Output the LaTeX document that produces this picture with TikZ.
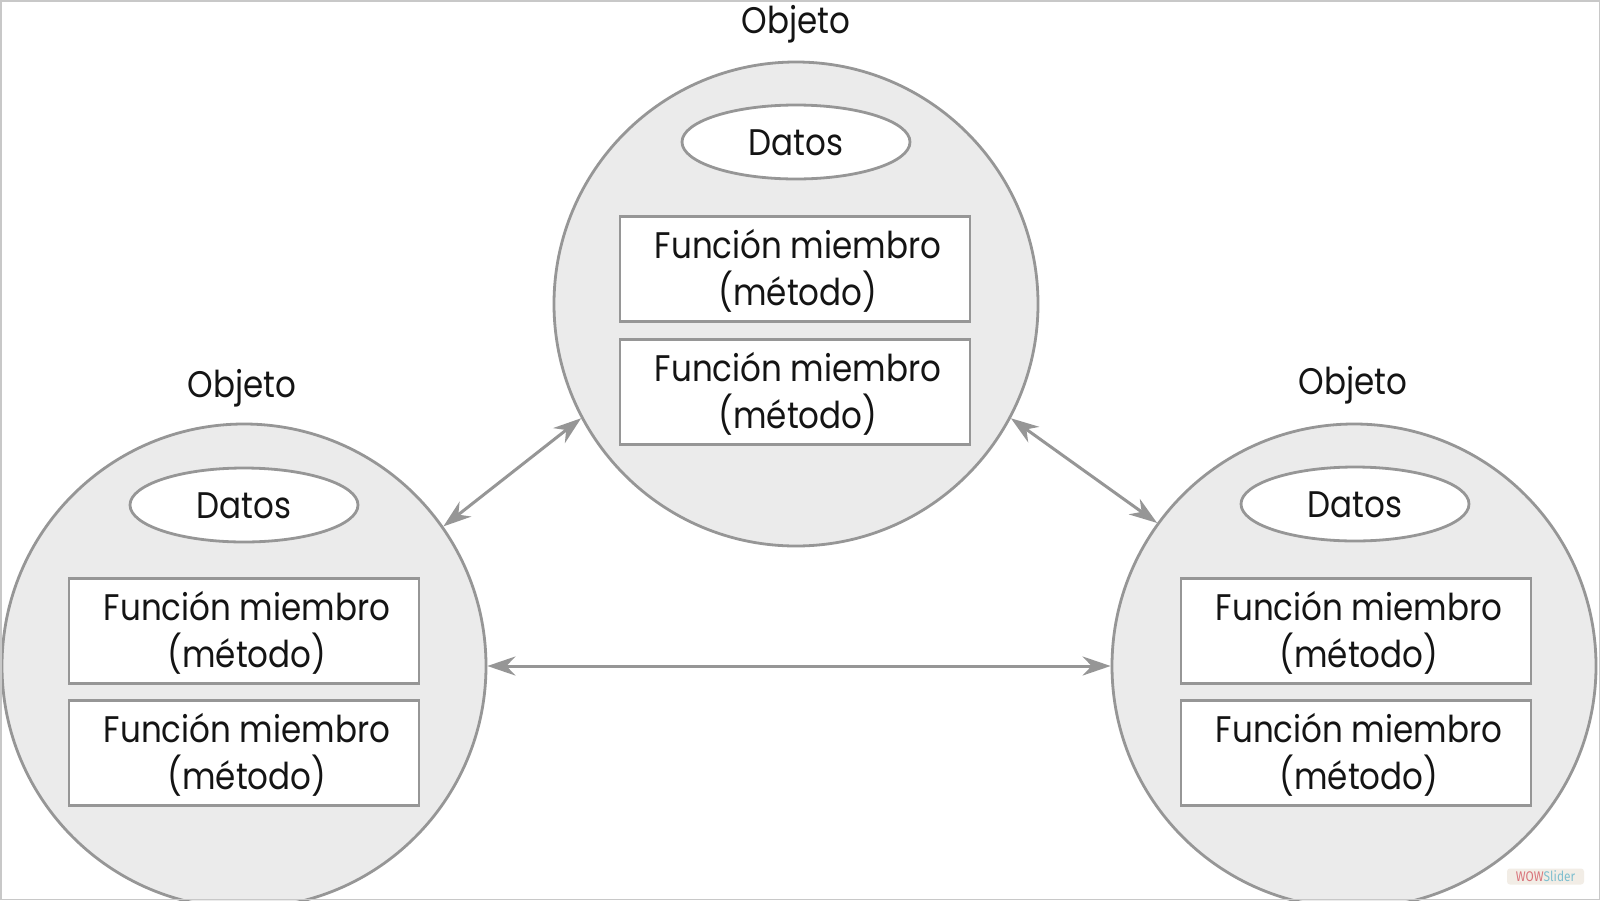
\documentclass[tikz,border=0pt]{standalone}
\usepackage{fontspec}
\setmainfont{Poppins}[FakeStretch=0.88]
\newfontfamily\wowfont{Fira Sans}[FakeStretch=0.85]
\usetikzlibrary{arrows.meta,shapes.geometric}
\definecolor{rim}{HTML}{969696}
\definecolor{disc}{HTML}{EBEBEB}
\definecolor{ink}{HTML}{141414}
\definecolor{frameline}{HTML}{C8C8C8}
\definecolor{wowred}{HTML}{D9737A}
\definecolor{wowblue}{HTML}{7FBFCF}
\definecolor{wowbg}{HTML}{F2EDE6}
\begin{document}
\begin{tikzpicture}[x=1pt,y=-1pt,
  obj/.style={circle,draw=rim,fill=disc,line width=2.8pt,minimum size=484pt,inner sep=0pt},
  datos/.style={ellipse,draw=rim,fill=white,line width=2.8pt,minimum width=228pt,minimum height=74pt,inner sep=0pt},
  fbox/.style={rectangle,draw=rim,fill=white,line width=2.8pt,minimum width=350pt,minimum height=105pt,inner sep=0pt},
  txt/.style={inner sep=0pt,anchor=base,text=ink,font=\fontsize{37}{47}\selectfont},
  ftxt/.style={txt,align=center},
  link/.style={draw=rim,line width=3pt,{Stealth[length=28pt,width=19pt,inset=9pt]}-{Stealth[length=28pt,width=19pt,inset=9pt]}}
]
\useasboundingbox (0,0) rectangle (1600,900);
\clip (0,0) rectangle (1600,900);
\fill[white] (0,0) rectangle (1600,900);

% objects
\node[obj] (T) at (796,304) {};
\node[obj] (L) at (244,666) {};
\node[obj] (R) at (1354,666) {};

% titles
\node[txt] (tT) at (796,33) {Objeto};
\node[txt] (tL) at (242,397) {Objeto};
\node[txt] (tR) at (1353,394) {Objeto};

% data
\node[datos] (dT) at (796,142) {};
\node[datos] (dL) at (244,505) {};
\node[datos] (dR) at (1355,504) {};
\node[txt] (dTt) at (796,155) {Datos};
\node[txt] (dLt) at (244,518) {Datos};
\node[txt] (dRt) at (1355,517) {Datos};

% member functions
\node[fbox] (fT1) at (795,269) {};
\node[fbox] (fT2) at (795,392) {};
\node[fbox] (fL1) at (244,631) {};
\node[fbox] (fL2) at (244,753) {};
\node[fbox] (fR1) at (1356,631) {};
\node[fbox] (fR2) at (1356,753) {};
\node[ftxt] (fT1t) at (798,305) {Función miembro\\(método)};
\node[ftxt] (fT2t) at (798,428) {Función miembro\\(método)};
\node[ftxt] (fL1t) at (247,667) {Función miembro\\(método)};
\node[ftxt] (fL2t) at (247,789) {Función miembro\\(método)};
\node[ftxt] (fR1t) at (1359,667) {Función miembro\\(método)};
\node[ftxt] (fR2t) at (1359,789) {Función miembro\\(método)};

% connectors
\draw[link] (L.35) -- (T.208.6);
\draw[link] (T.-28) -- (R.144.4);
\draw[link] (L.east) -- (R.west);

% watermark
\node[fill=wowbg,rounded corners=3pt,minimum width=77pt,minimum height=16pt,inner sep=0pt,font=\wowfont\fontsize{14}{15}\selectfont] (wow) at (1545.5,876.5) {\textcolor{wowred}{WOW}\textcolor{wowblue}{Slider}};

% frame
\draw[frameline,line width=1.5pt] (0.75,0.75) rectangle (1599.25,899.25);
\end{tikzpicture}
\end{document}
